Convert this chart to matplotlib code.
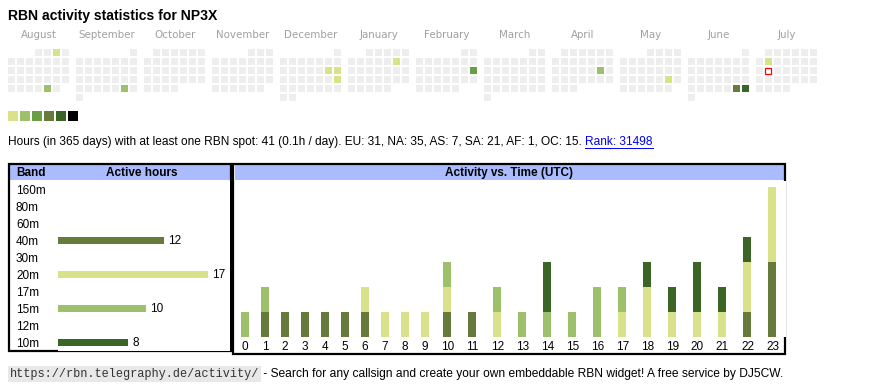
import datetime as dt
import numpy as np
import matplotlib
matplotlib.use("Agg")
import matplotlib.pyplot as plt
from matplotlib.patches import Rectangle
from matplotlib.lines import Line2D

plt.rcParams["font.family"] = ["Liberation Sans", "DejaVu Sans"]

W, H = 870, 390

# ---- data ----
callsign = "NP3X"
months = ["August", "September", "October", "November", "December", "January",
          "February", "March", "April", "May", "June", "July"]
month_starts = ["2024-08-01", "2024-09-01", "2024-10-01", "2024-11-01", "2024-12-01", "2025-01-01",
                "2025-02-01", "2025-03-01", "2025-04-01", "2025-05-01", "2025-06-01", "2025-07-01"]
active_days = ["2024-08-03", "2024-08-30", "2024-09-28", "2024-12-14", "2024-12-15", "2024-12-22",
               "2025-01-11", "2025-02-16", "2025-04-19", "2025-05-24", "2025-06-28", "2025-06-29",
               "2025-07-08"]
active_levels = [1, 2, 2, 1, 1, 1, 1, 3, 2, 1, 4, 5, 1]
today = "2025-07-15"
level_colors = ["#d9e18b", "#9dc16b", "#6a9e45", "#657a3b", "#3b6427", "#000000"]

bands = ["160m", "80m", "60m", "40m", "30m", "20m", "17m", "15m", "12m", "10m"]
band_hours = [0, 0, 0, 12, 0, 17, 0, 10, 0, 8]
band_colors = ["#d9e18b", "#d9e18b", "#d9e18b", "#657a3b", "#d9e18b",
               "#d9e18b", "#d9e18b", "#9dc16b", "#d9e18b", "#3b6427"]

hours = list(range(24))
hours_40m = [0, 1, 1, 1, 1, 1, 1, 0, 0, 0, 1, 1, 0, 0, 0, 0, 0, 0, 0, 0, 0, 0, 1, 3]
hours_20m = [0, 0, 0, 0, 0, 0, 1, 1, 1, 1, 1, 0, 1, 0, 0, 0, 0, 1, 2, 1, 1, 1, 2, 3]
hours_15m = [1, 1, 0, 0, 0, 0, 0, 0, 0, 0, 1, 0, 1, 1, 1, 1, 2, 1, 0, 0, 0, 0, 0, 0]
hours_10m = [0, 0, 0, 0, 0, 0, 0, 0, 0, 0, 0, 0, 0, 0, 2, 0, 0, 0, 1, 1, 2, 1, 1, 0]

summary = "Hours (in 365 days) with at least one RBN spot: 41 (0.1h / day). EU: 31, NA: 35, AS: 7, SA: 21, AF: 1, OC: 15. "
rank = "Rank: 31498"
url = "https://rbn.telegraphy.de/activity/"
footer = " - Search for any callsign and create your own embeddable RBN widget! A free service by DJ5CW."


fig = plt.figure(figsize=(W / 100, H / 100), dpi=100)


def px_axes(x, y, w, h):
    return fig.add_axes([x / W, 1 - (y + h) / H, w / W, h / H])


# background axes in pixel units for the boxes / headers
bg = px_axes(0, 0, W, H)
bg.set_xlim(0, W)
bg.set_ylim(H, 0)
bg.axis("off")
bg.add_patch(Rectangle((10, 165), 221, 15, facecolor="#aabbff", lw=0))
bg.add_patch(Rectangle((235, 165), 550, 15, facecolor="#aabbff", lw=0))
bg.add_patch(Rectangle((9, 164), 222, 187, fill=False, edgecolor="black", lw=1.6))
bg.add_patch(Rectangle((233.5, 164), 552, 189.5, fill=False, edgecolor="black", lw=1.6))

bg.text(8, 16, f"RBN activity statistics for {callsign}", fontsize=10.1, fontweight="bold", va="center")
bg.text(16, 173, "Band", fontsize=8.5, fontweight="bold", va="center")
bg.text(142, 173, "Active hours", fontsize=8.5, fontweight="bold", va="center", ha="center")
bg.text(509.5, 173, "Activity vs. Time (UTC)", fontsize=8.5, fontweight="bold", va="center", ha="center")

# summary line + rank link
fig.canvas.draw()
r = fig.canvas.get_renderer()
t1 = bg.text(8, 142, summary, fontsize=8.6, va="center")
x_end = bg.transData.inverted().transform(t1.get_window_extent(r))[1][0]
t2 = bg.text(x_end, 142, rank, fontsize=8.6, va="center", color="#0000ee")
bb = bg.transData.inverted().transform(t2.get_window_extent(r))
bg.add_line(Line2D([bb[0][0], bb[1][0]], [148, 148], color="#0000ee", lw=0.7))

# footer
t3 = bg.text(10, 374, url, fontsize=8.6, family="Liberation Mono", va="center", color="#333333",
             bbox=dict(facecolor="#e8e8e8", edgecolor="none", pad=1.2))
x_end = bg.transData.inverted().transform(t3.get_window_extent(r))[1][0]
bg.text(x_end + 1, 374, footer, fontsize=8.65, va="center")

# ---- calendar ----
cal = px_axes(8, 49, 820, 54)
cal.set_xlim(0, 820)
cal.set_ylim(54, 0)
cal.axis("off")
day_level = dict(zip(active_days, active_levels))
for m, start in enumerate(month_starts):
    d0 = dt.date.fromisoformat(start)
    nxt = (d0.replace(day=28) + dt.timedelta(days=4)).replace(day=1)
    for k in range((nxt - d0).days):
        key = (d0 + dt.timedelta(days=k)).isoformat()
        pos = d0.weekday() + k
        x, y = m * 68 + (pos % 7) * 9, (pos // 7) * 9
        if key == today:
            cal.add_patch(Rectangle((x + 0.5, y + 0.5), 6, 6, facecolor="white", edgecolor="#ff0000", lw=0.9))
            continue
        color = level_colors[day_level[key] - 1] if key in day_level else "#eeeeee"
        cal.add_patch(Rectangle((x, y), 7, 7, facecolor=color, lw=0))
    cal.text(m * 68 + 31, -13.5, months[m], fontsize=7.4, family="DejaVu Sans", color="#a0a0a0",
             ha="center", va="center", clip_on=False)

# legend squares
leg = px_axes(8, 111, 70, 10)
leg.set_xlim(0, 70)
leg.set_ylim(10, 0)
leg.axis("off")
for i, c in enumerate(level_colors):
    leg.add_patch(Rectangle((i * 12, 0), 10, 10, facecolor=c, lw=0))

# ---- band panel ----
bax = px_axes(58, 181, 172, 170)
ypos = np.arange(len(bands))
bax.barh(ypos, band_hours, height=7 / 17, color=band_colors)
bax.set_ylim(len(bands) - 0.5, -0.5)
bax.set_xlim(0, 172 / 8.8)
for i, v in enumerate(band_hours):
    if v:
        bax.annotate(str(v), (v, i), xytext=(4, 0), textcoords="offset pixels", va="center", fontsize=8.5)
bax.set_yticks(ypos, bands)
for lab in bax.get_yticklabels():
    lab.set_horizontalalignment("left")
bax.tick_params(axis="y", length=0, pad=42 * 0.72, labelsize=8.5)
bax.set_xticks([])
for s in bax.spines.values():
    s.set_visible(False)

# ---- hour panel ----
hax = px_axes(235, 181, 551, 156)
widths = np.array([20 if h < 10 else 25 for h in hours])  # html cells widen for 2-digit labels
centers = np.cumsum(widths) - widths / 2
hax.set_xlim(0, 551)
hax.set_ylim(0, 156 / 25)
bottom = np.zeros(len(hours))
for vals, c in [(hours_40m, "#657a3b"), (hours_20m, "#d9e18b"), (hours_15m, "#9dc16b"), (hours_10m, "#3b6427")]:
    hax.bar(centers, vals, width=8, bottom=bottom, color=c)
    bottom += np.array(vals)
hax.set_xticks(centers, [str(h) for h in hours])
hax.tick_params(axis="x", length=0, pad=3, labelsize=8.5)
hax.set_yticks([])
for s in hax.spines.values():
    s.set_visible(False)

fig.savefig("out.png", dpi=100)
